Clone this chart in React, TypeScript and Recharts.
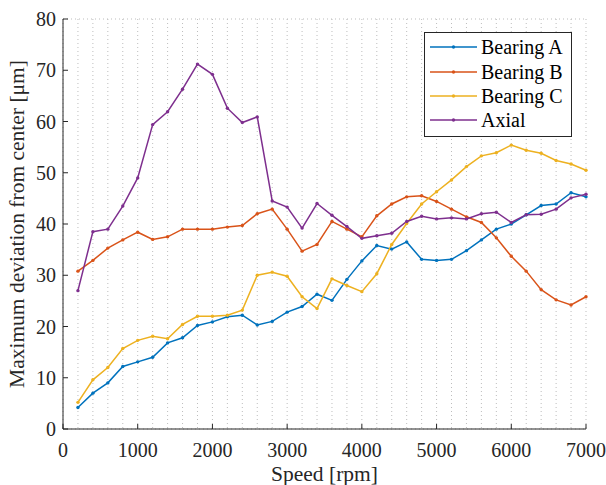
import React from 'react';
import { LineChart, Line, XAxis, YAxis, CartesianGrid, Legend } from 'recharts';

const speeds = [200, 400, 600, 800, 1000, 1200, 1400, 1600, 1800, 2000, 2200, 2400, 2600, 2800, 3000, 3200, 3400, 3600, 3800, 4000, 4200, 4400, 4600, 4800, 5000, 5200, 5400, 5600, 5800, 6000, 6200, 6400, 6600, 6800, 7000];

const bearingA = [4.2, 7.0, 9.0, 12.2, 13.1, 14.0, 16.8, 17.8, 20.2, 20.9, 21.9, 22.2, 20.3, 21.0, 22.8, 23.9, 26.3, 25.1, 29.2, 32.8, 35.8, 35.1, 36.5, 33.1, 32.9, 33.1, 34.8, 36.9, 39.0, 40.0, 41.8, 43.6, 43.9, 46.1, 45.3];
const bearingB = [30.8, 32.9, 35.3, 36.9, 38.4, 37.0, 37.5, 39.0, 39.0, 39.0, 39.4, 39.7, 42.0, 42.9, 39.0, 34.7, 36.0, 40.5, 39.0, 37.5, 41.6, 43.9, 45.3, 45.5, 44.4, 42.9, 41.4, 40.3, 37.3, 33.7, 30.8, 27.2, 25.2, 24.2, 25.8];
const bearingC = [5.2, 9.6, 12.0, 15.7, 17.3, 18.1, 17.6, 20.4, 22.0, 22.0, 22.2, 23.2, 30.0, 30.6, 29.8, 25.8, 23.5, 29.3, 28.0, 26.8, 30.3, 36.0, 40.1, 43.9, 46.3, 48.6, 51.2, 53.3, 53.9, 55.4, 54.4, 53.8, 52.4, 51.7, 50.5];
const axial = [27.0, 38.5, 39.0, 43.5, 49.0, 59.4, 61.9, 66.3, 71.2, 69.2, 62.6, 59.8, 60.9, 44.5, 43.3, 39.2, 44.0, 41.7, 39.5, 37.2, 37.7, 38.2, 40.5, 41.5, 41.0, 41.2, 41.0, 42.0, 42.3, 40.3, 41.8, 41.9, 42.9, 45.1, 45.8];

const xTicks = [0, 1000, 2000, 3000, 4000, 5000, 6000, 7000];
const yTicks = [0, 10, 20, 30, 40, 50, 60, 70, 80];
const xMinorTicks = [0, 200, 400, 600, 800, 1000, 1200, 1400, 1600, 1800, 2000, 2200, 2400, 2600, 2800, 3000, 3200, 3400, 3600, 3800, 4000, 4200, 4400, 4600, 4800, 5000, 5200, 5400, 5600, 5800, 6000, 6200, 6400, 6600, 6800, 7000];
const yMinorTicks = [0, 2, 4, 6, 8, 10, 12, 14, 16, 18, 20, 22, 24, 26, 28, 30, 32, 34, 36, 38, 40, 42, 44, 46, 48, 50, 52, 54, 56, 58, 60, 62, 64, 66, 68, 70, 72, 74, 76, 78, 80];

const seriesNames = ['Bearing A', 'Bearing B', 'Bearing C', 'Axial'];
const seriesKeys = ['a', 'b', 'c', 'ax'];
const seriesColors = ['#0072BD', '#D95319', '#EDB120', '#7E2F8E'];

const xLabelText = 'Speed [rpm]';
const yLabelText = 'Maximum deviation from center [μm]';

const data = speeds.map((s, i) => ({
  speed: s,
  a: bearingA[i],
  b: bearingB[i],
  c: bearingC[i],
  ax: axial[i],
}));

const FONT = '"Liberation Serif", "Times New Roman", serif';
const AXIS_COLOR = '#262626';

const tickStyle = { fontSize: 20, fill: AXIS_COLOR, fontFamily: FONT };

const LegendBox = () => (
  <div
    style={{
      border: `1px solid ${AXIS_COLOR}`,
      background: '#fff',
      width: 146,
      height: 101,
      boxSizing: 'content-box',
      paddingTop: 2,
      fontFamily: FONT,
      fontSize: 20,
      color: '#000',
    }}
  >
    {seriesNames.map((n, i) => (
      <div key={n} style={{ height: 24.4, display: 'flex', alignItems: 'center' }}>
        <svg width={56} height={10} style={{ flex: 'none' }}>
          <line x1={5} y1={5} x2={52} y2={5} stroke={seriesColors[i]} strokeWidth={1.5} />
          <circle cx={28.5} cy={5} r={1.7} fill={seriesColors[i]} />
        </svg>
        <span style={{ lineHeight: '20px', whiteSpace: 'nowrap' }}>{n}</span>
      </div>
    ))}
  </div>
);

const YLabel = (props: any) => {
  const vb = props.viewBox || {};
  const cx = vb.x + 24;
  const cy = vb.y + vb.height / 2;
  return (
    <text
      x={cx}
      y={cy}
      transform={`rotate(-90, ${cx}, ${cy})`}
      textAnchor="middle"
      fontSize={21.5}
      fontFamily={FONT}
      fill={AXIS_COLOR}
    >
      {yLabelText}
    </text>
  );
};

const XLabel = (props: any) => {
  const vb = props.viewBox || {};
  return (
    <text
      x={vb.x + vb.width / 2}
      y={vb.y + 52}
      textAnchor="middle"
      fontSize={21.5}
      fontFamily={FONT}
      fill={AXIS_COLOR}
    >
      {xLabelText}
    </text>
  );
};

export default function App() {
  return (
    <div style={{ position: 'absolute', left: 0, top: 0, width: 606, height: 485, background: '#fff' }}>
      <LineChart
        width={606}
        height={485}
        data={data}
        margin={{ top: 19, right: 20, bottom: 0, left: 0 }}
      >
        <XAxis
          xAxisId="minorX"
          dataKey="speed"
          type="number"
          domain={[0, 7000]}
          ticks={xMinorTicks}
          interval={0}
          hide
        />
        <YAxis
          yAxisId="minorY"
          type="number"
          domain={[0, 80]}
          ticks={yMinorTicks}
          interval={0}
          hide
        />
        <CartesianGrid
          xAxisId="minorX"
          yAxisId="minorY"
          stroke="#bdbdbd"
          strokeDasharray="1 3"
          strokeWidth={1}
        />
        <XAxis
          dataKey="speed"
          type="number"
          domain={[0, 7000]}
          ticks={xTicks}
          interval={0}
          height={56}
          tickSize={-5}
          tickMargin={19}
          tick={tickStyle}
          stroke={AXIS_COLOR}
          axisLine={{ stroke: AXIS_COLOR }}
          tickLine={{ stroke: AXIS_COLOR }}
          label={<XLabel />}
        />
        <XAxis
          xAxisId="top"
          orientation="top"
          dataKey="speed"
          type="number"
          domain={[0, 7000]}
          ticks={xTicks}
          interval={0}
          height={0}
          tickSize={-5}
          tick={false}
          axisLine={{ stroke: AXIS_COLOR }}
          tickLine={{ stroke: AXIS_COLOR }}
        />
        <YAxis
          type="number"
          domain={[0, 80]}
          ticks={yTicks}
          interval={0}
          width={63}
          tickSize={-5}
          tickMargin={12}
          tick={tickStyle}
          axisLine={{ stroke: AXIS_COLOR }}
          tickLine={{ stroke: AXIS_COLOR }}
          label={<YLabel />}
        />
        <YAxis
          yAxisId="right"
          orientation="right"
          type="number"
          domain={[0, 80]}
          ticks={yTicks}
          interval={0}
          width={0}
          tickSize={-5}
          tick={false}
          axisLine={{ stroke: AXIS_COLOR }}
          tickLine={{ stroke: AXIS_COLOR }}
        />
        {seriesKeys.map((k, i) => (
          <Line
            key={k}
            type="linear"
            dataKey={k}
            name={seriesNames[i]}
            stroke={seriesColors[i]}
            strokeWidth={1.5}
            dot={{ r: 1.7, fill: seriesColors[i], stroke: 'none' }}
            activeDot={false}
            isAnimationActive={false}
          />
        ))}
        <Legend
          layout="vertical"
          align="center"
          verticalAlign="middle"
          content={<LegendBox />}
          wrapperStyle={{ position: 'absolute', left: 424, top: 32, width: 'auto', height: 'auto' }}
        />
      </LineChart>
    </div>
  );
}
